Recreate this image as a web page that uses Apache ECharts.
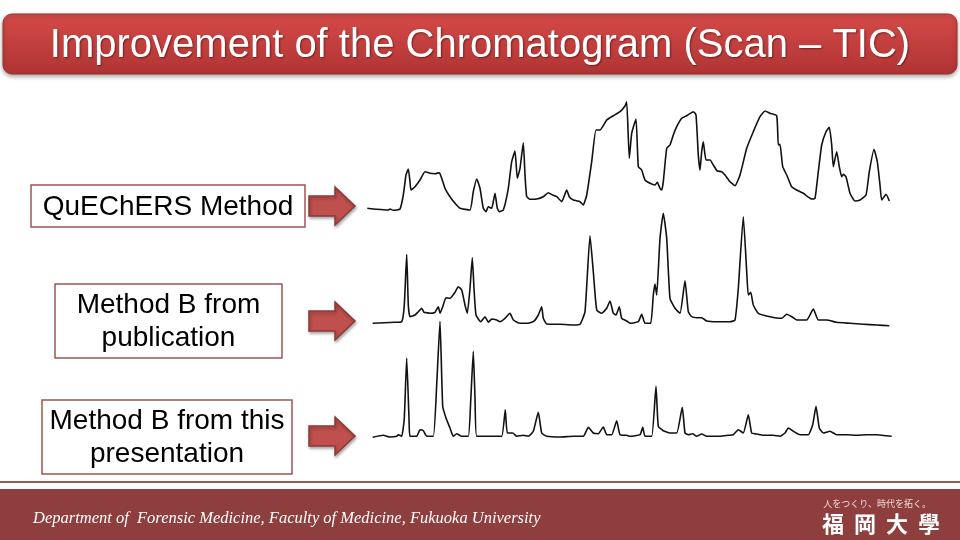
<!DOCTYPE html>
<html>
<head>
<meta charset="utf-8">
<script src="https://cdn.jsdelivr.net/npm/echarts@6/dist/echarts.min.js"></script>
<style>
  html, body { margin: 0; padding: 0; background: #ffffff; }
  #chart { width: 960px; height: 540px; }
</style>
</head>
<body>
<div id="chart"></div>
<script>
// Retention time (arbitrary units) and relative TIC intensity
var quechersTime = [7.3,16.7,28.3,30,33.3,40,43.3,46,48.3,50,51,55,60,65,70,75,79.3,81.7,85,90,95,100,110,113.3,116.7,120,123.3,126,128.3,131.7,135,137.3,139.3,143.3,148.3,151.7,155,157.3,160,163.3,165,166.7,170,176.7,183.3,188.3,192.7,196.7,201.7,206.7,209.3,213.3,220,223.3,226.7,231.7,236,240,246.7,253.3,260,265,266.7,269.3,271.7,276,278.3,281.7,285,290,295,297.3,300,301.7,303.3,306.7,310,313.3,316.7,321.7,326.7,333.3,336,338.3,340,341.7,343.3,346,350,353.3,357.3,361.7,365,370,375,380,386.7,393.3,400,405,410,416.7,418.3,420,422.7,426.7,431.7,436.7,443.3,451.7,455,458.3,461.7,466,469.3,471.7,473.3,476.7,479.3,481.7,483.3,486,490,495,500,506,509.3,514,517.3,520,521.7,526,529.3];
var quechersTIC = [-0.3,-1.3,-2,-1,-2.3,-1,13,33,39,26.3,18,21.3,28,36.3,34.7,34.3,35.3,29.7,19.7,11.3,4.7,-0.3,-2,16.3,29,19.7,-0.3,-3.7,1.3,-0.3,14.7,-0.3,-3.7,-2,19.7,46.3,57,29.7,39.7,65.3,33,11.3,8.7,9,11.3,15.3,13,11.3,6.3,18,11.3,8,6.3,3,13,46.3,78,78,88,92.3,96.3,102,106.3,49.7,74.7,89,41.3,38,28,24.7,23,25.7,19.7,18,26.3,59.7,63,73,81.3,89.7,92.3,96.3,93,53,38,56.3,66.3,48,48,43,37,36.3,33,26.3,22.3,33,59.7,76.3,91.3,97,94.7,92.3,63,63.7,41.3,33,21.3,18,14.7,9,9.7,36.3,63,76.3,80.7,63,41.3,56.3,41.3,31.3,33.7,31.3,14.7,7,8,13,36.3,58.7,46.3,23,8,13.7,7];

var pubTime = [12.7,35,41.7,44.3,46.7,48.3,50,55,58.3,61.7,64,66.7,70,75,78.3,80,82.7,86,90,95,98.3,101.7,105,107.3,110,112.3,114,116,120.7,125,128.3,131.7,136.7,140,145,150,153.3,160,166.7,173.3,178.3,181.7,183.3,186.7,200,213.3,220,225,230,233.3,236.7,241.7,246.7,250,253.3,256,259.3,261.7,266.7,270,278.3,281.7,285,290.7,293.3,295,296.7,300,303.3,306.7,310,315,320,325,328.3,331.7,336.7,341.7,346.7,356.7,370,375,378.3,383.3,386.7,388.3,390.7,393.3,398.3,410,421.7,426.7,431.7,436.7,446.7,453.3,458.3,466.7,476.7,490,503.3,516.7,529.3];
var pubTIC = [-0.3,0.7,1.3,18,68.7,18,6.3,8,11.3,14.7,10.7,10.3,9.7,10.7,16.3,9.7,16.3,25.3,24.7,30.7,36.3,33,18,9.7,34.7,65.3,34.7,8,1.3,6.3,0.7,4,3,1.3,4.7,9.7,3,-0.3,-0.3,1.3,8,16.3,4.7,-1,-1.3,-2,-1.3,11.3,87.3,51.3,13,9.7,14.7,22,9.7,8,16.3,4.7,2,-0.3,1.3,8.7,-0.3,-0.3,28,39,28,84.7,109.7,84.7,24.7,14.7,9.7,42.3,11.3,6.3,5.3,5.3,2,1.3,1.3,3,34.7,106.3,51.3,28,30.7,18,9.7,6.3,4.7,8.7,6.3,3,3,14,3,3,0.7,-0.3,-1.3,-2,-2.7];

var thisTime = [12.7,23.3,30,36.7,38.3,41.7,44.3,46.7,49,50,56.7,60,63.3,66.7,73.3,76.7,80,82.7,86,90,93.3,96.7,101.7,108.3,110.7,113.3,115,116.7,126.7,133.3,141.7,145.3,147.3,152.7,156.7,163.3,168.3,173.3,178.3,181.7,186.7,200,213.3,223.3,228.3,233.3,238.3,243.3,246.7,251.7,256.7,260,266.7,270,280,282.7,285,291.7,296,298.3,303.3,310,316.7,322.3,325,328.3,332.7,336.7,341.7,346.7,360,368.3,373.3,378.3,383.3,388.3,391.7,396.7,403.3,413.3,420,425,428.3,433.3,440,448.3,452.7,456,459.3,463.3,470,476.7,486.7,496.7,506.7,516.7,531.7];
var thisTIC = [-1.3,0.7,-1,-0.3,1.3,-0.3,18,78,18,-0.3,-0.3,6.3,5.3,-0.3,-0.3,51.3,114.7,29.7,18,8,-0.3,2.3,-0.3,-0.3,34.7,84.7,38,-0.3,-0.3,-0.3,-0.3,26.3,3,3,-0.3,0.7,-0.3,4.7,23.7,3,-0.3,-1,-0.3,-0.3,8.7,3,2.3,9,1.3,1.3,15.3,1.3,0.7,-0.3,1.3,8.7,-0.3,-0.3,49.7,9.7,5.3,3,3,28.7,3,1.3,2.3,-0.3,2,-0.3,-0.3,0.7,1.3,6.3,3,21.3,3,2,0.7,0.7,-0.3,3,8,4.7,1.3,1.3,11.3,29.7,8,3,4.7,1.3,1.3,0.7,1.3,1.3,-0.3];

var pageTitle = 'Improvement of the Chromatogram (Scan \u2013 TIC)';
var methodLabels = [['QuEChERS Method'], ['Method B from', 'publication'], ['Method B from this', 'presentation']];
var footerText = 'Department of  Forensic Medicine, Faculty of Medicine, Fukuoka University';
var logoMotto = '人をつくり、時代を拓く。';
var logoChars = ['福', '岡', '大', '學'];

function zip(xs, ys) { return xs.map(function (x, i) { return [x, ys[i]]; }); }

var chart = echarts.init(document.getElementById('chart'), null, { renderer: 'canvas' });

var baselines = [208, 323, 436]; // pixel y of each trace's zero line
var grids = baselines.map(function (b) {
  return { left: 360, width: 540, top: b - 120, height: 130, containLabel: false };
});
var xAxes = grids.map(function (g, i) {
  return { type: 'value', gridIndex: i, min: 0, max: 540, show: false };
});
var yAxes = grids.map(function (g, i) {
  return { type: 'value', gridIndex: i, min: -10, max: 120, show: false };
});
var seriesData = [zip(quechersTime, quechersTIC), zip(pubTime, pubTIC), zip(thisTime, thisTIC)];
var series = seriesData.map(function (d, i) {
  return {
    type: 'line', xAxisIndex: i, yAxisIndex: i, data: d,
    showSymbol: false, symbol: 'none', smooth: 0.15, animation: false,
    lineStyle: { color: '#111111', width: 1.6, join: 'round' },
    silent: true
  };
});

// Label boxes and arrows (decoration)
var boxes = [
  { x: 31, y: 185, w: 274, h: 42 },
  { x: 55, y: 284, w: 227, h: 74 },
  { x: 42, y: 400, w: 250, h: 74 }
];
var arrowCenters = [206, 321, 436];

var graphics = [];
// title bar
graphics.push({
  type: 'rect', shape: { x: 3, y: 14, width: 954, height: 60, r: 9 },
  style: {
    fill: new echarts.graphic.LinearGradient(0, 0, 0, 1, [
      { offset: 0, color: '#d44a48' }, { offset: 1, color: '#b03433' }
    ]),
    stroke: '#9e3130', lineWidth: 1,
    shadowBlur: 4, shadowColor: 'rgba(0,0,0,0.35)', shadowOffsetY: 2
  }, z: 1
});
graphics.push({
  type: 'text', x: 480, y: 46, z: 2,
  style: {
    text: pageTitle, fill: '#ffffff', font: '40px "Liberation Sans", Arial, sans-serif',
    align: 'center', verticalAlign: 'middle',
    textShadowColor: 'rgba(60,10,10,0.6)', textShadowBlur: 2, textShadowOffsetX: 1, textShadowOffsetY: 1
  }
});
// boxes
boxes.forEach(function (b, i) {
  graphics.push({
    type: 'rect', shape: { x: b.x, y: b.y, width: b.w, height: b.h },
    style: { fill: '#ffffff', stroke: '#a05552', lineWidth: 1.5 }, z: 1
  });
  var lines = methodLabels[i];
  var cy = b.y + b.h / 2 + 1;
  lines.forEach(function (t, k) {
    var yy = cy + (k - (lines.length - 1) / 2) * 33;
    graphics.push({
      type: 'text', x: b.x + b.w / 2, y: yy, z: 2,
      style: { text: t, fill: '#000000', font: '28px "Liberation Sans", Arial, sans-serif',
        align: 'center', verticalAlign: 'middle' }
    });
  });
});
// arrows
arrowCenters.forEach(function (c) {
  graphics.push({
    type: 'polygon', z: 2,
    shape: { points: [[309, c - 10], [335, c - 10], [335, c - 19], [355, c], [335, c + 19], [335, c + 10], [309, c + 10]] },
    style: { fill: '#c0504d', stroke: '#8c3a37', lineWidth: 1.5,
      shadowBlur: 3, shadowColor: 'rgba(0,0,0,0.3)', shadowOffsetX: 1, shadowOffsetY: 2 }
  });
});
// footer
graphics.push({ type: 'rect', shape: { x: 0, y: 481, width: 960, height: 2 }, style: { fill: '#9a5a58' }, z: 1 });
graphics.push({ type: 'rect', shape: { x: 0, y: 489, width: 960, height: 51 }, style: { fill: '#8e3e3d' }, z: 1 });
graphics.push({
  type: 'text', x: 33, y: 519, z: 2,
  style: { text: footerText, fill: '#ffffff', font: 'italic 16.5px "Liberation Serif", "Times New Roman", serif',
    align: 'left', verticalAlign: 'middle' }
});
graphics.push({
  type: 'text', x: 931, y: 504, z: 2,
  style: { text: logoMotto, fill: '#f0dada', font: '9px "Noto Sans CJK JP", sans-serif',
    align: 'right', verticalAlign: 'middle' }
});
logoChars.forEach(function (ch, i) {
  graphics.push({
    type: 'text', x: 833 + i * 32, y: 524, z: 2,
    style: { text: ch, fill: '#ffffff', font: 'bold 22px "Noto Sans CJK JP", sans-serif',
      align: 'center', verticalAlign: 'middle' }
  });
});

chart.setOption({
  backgroundColor: '#ffffff',
  animation: false,
  grid: grids,
  xAxis: xAxes,
  yAxis: yAxes,
  series: series,
  graphic: graphics
});
</script>
</body>
</html>
